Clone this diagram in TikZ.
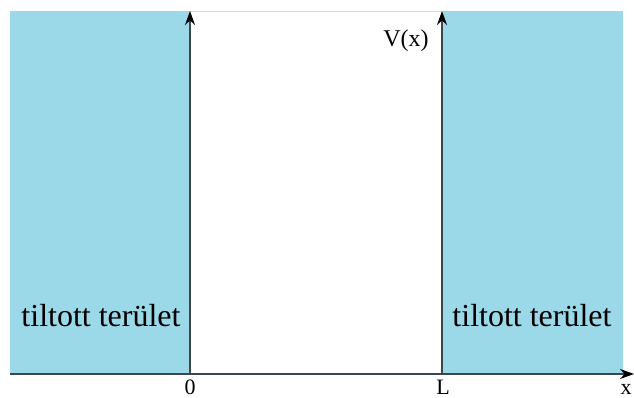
\documentclass[tikz,border=0pt]{standalone}
\usepackage{fontspec}
\setmainfont{Liberation Serif}
\usetikzlibrary{arrows.meta}
\definecolor{zone}{RGB}{155,216,232}
\definecolor{axisc}{RGB}{60,70,76}
\begin{document}
\begin{tikzpicture}[x=1pt,y=-1pt,
  zonebox/.style={fill=zone,draw=none},
  axisline/.style={draw=axisc,line width=1.4pt},
  axisarrow/.style={axisline,-{Stealth[length=14pt,width=10pt,color=black]}},
  bigtext/.style={font=\fontsize{32}{36}\selectfont,anchor=base},
  smalltext/.style={font=\fontsize{22}{26}\selectfont,anchor=base,inner sep=0pt}]
\useasboundingbox (0,0) rectangle (634,398);
\fill[white] (0,0) rectangle (634,398);
% forbidden zones
\path[zonebox] (10,11) rectangle (190,374);
\path[zonebox] (443,11) rectangle (623,374);
\draw[gray!30,line width=0.8pt] (190,11) -- (443,11);
% coordinates
\coordinate (o) at (190,374);
\coordinate (l) at (442,374);
\coordinate (xs) at (10,374);
\coordinate (xe) at (634,374);
\coordinate (ot) at (190,11);
\coordinate (lt) at (442,11);
% axes
\draw[axisarrow] (xs) -- (xe);
\draw[axisarrow] (o) -- (ot);
\draw[axisarrow] (l) -- (lt);
% labels
\node[bigtext] (tl) at (101,326) {tiltott terület};
\node[bigtext] (tr) at (532,326) {tiltott terület};
\node[font=\fontsize{24}{28}\selectfont,anchor=base] (v) at (406,47) {V(x)};
\node[smalltext] (zero) at (190,394) {0};
\node[smalltext] (ll) at (443,394) {L};
\node[smalltext] (xl) at (626,394) {x};
\end{tikzpicture}
\end{document}
